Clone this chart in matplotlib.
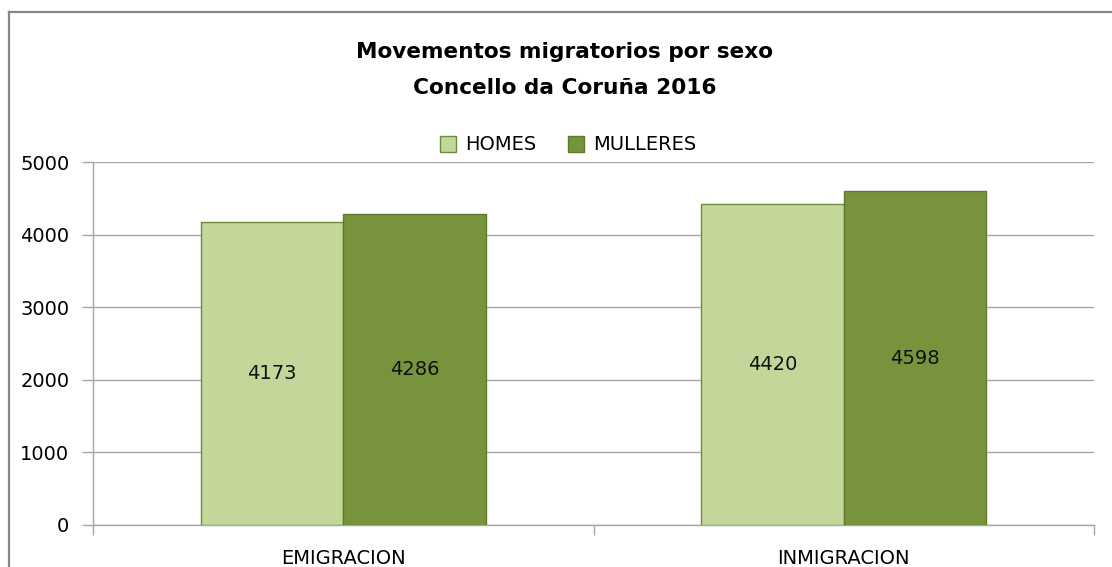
import matplotlib
matplotlib.use('Agg')
import matplotlib.pyplot as plt
from matplotlib.lines import Line2D
import numpy as np

# data
categories = ['EMIGRACION', 'INMIGRACION']
series_names = ['HOMES', 'MULLERES']
homes = [4173, 4420]
mulleres = [4286, 4598]
yticks = [0, 1000, 2000, 3000, 4000, 5000]

col_h = '#c4d79b'
col_m = '#77933c'
edge_h = '#6e8b3d'
edge_m = '#5f7a2e'
grid_c = '#a6a6a6'

plt.rcParams['font.family'] = ['DejaVu Sans']

W, H = 1112, 567
f = plt.figure(figsize=(W/100, H/100), dpi=100)
ax = f.add_axes([93/W, 1-525/H, (1094-93)/W, (525-162)/H])

x = np.arange(len(categories))
bw = 0.285
b1 = ax.bar(x - bw/2, homes, bw, color=col_h, edgecolor=edge_h, lw=1, zorder=3, label=series_names[0])
b2 = ax.bar(x + bw/2, mulleres, bw, color=col_m, edgecolor=edge_m, lw=1, zorder=3, label=series_names[1])

for bars, vals in ((b1, homes), (b2, mulleres)):
    for r, v in zip(bars, vals):
        ax.text(r.get_x()+r.get_width()/2, v/2, str(v), ha='center', va='center',
                fontsize=14, color='#111111', zorder=4)

ax.set_xlim(-0.5, len(categories)-0.5)
ax.set_ylim(0, 5000)
ax.set_yticks(yticks)
ax.set_yticklabels([str(t) for t in yticks], fontsize=14)
ax.yaxis.grid(True, color=grid_c, lw=1, zorder=0)
ax.set_xticks(x)
ax.set_xticklabels(categories, fontsize=14)
ax.tick_params(axis='x', which='major', length=0, pad=17)
ax.set_xticks(np.arange(-0.5, len(categories), 1.0), minor=True)
ax.tick_params(axis='x', which='minor', length=7, color=grid_c, width=1)
ax.tick_params(axis='y', length=8, color=grid_c, width=1, pad=9)
for s in ['top', 'right']:
    ax.spines[s].set_visible(False)
for s in ['left', 'bottom']:
    ax.spines[s].set_color(grid_c)
    ax.spines[s].set_linewidth(1)

# outer frame (left and top edges visible in the reference)
f.add_artist(Line2D([9/W, 9/W], [0, 1-12/H], color='#868686', lw=1.6, transform=f.transFigure))
f.add_artist(Line2D([9/W, 1], [1-12/H, 1-12/H], color='#868686', lw=1.6, transform=f.transFigure))

f.text(565/W, 1-52/H, 'Movementos migratorios por sexo', ha='center', va='center',
       fontsize=15.6, fontweight='bold')
f.text(565/W, 1-88/H, 'Concello da Coruña 2016', ha='center', va='center',
       fontsize=15.6, fontweight='bold')

f.legend(handles=[b1, b2], loc='center', bbox_to_anchor=(568/W, 1-145/H), ncol=2,
         frameon=False, fontsize=14, handlelength=0.85, handleheight=0.85,
         handletextpad=0.45, columnspacing=1.6)

plt.savefig('out.png', dpi=100)
plt.close(f)
